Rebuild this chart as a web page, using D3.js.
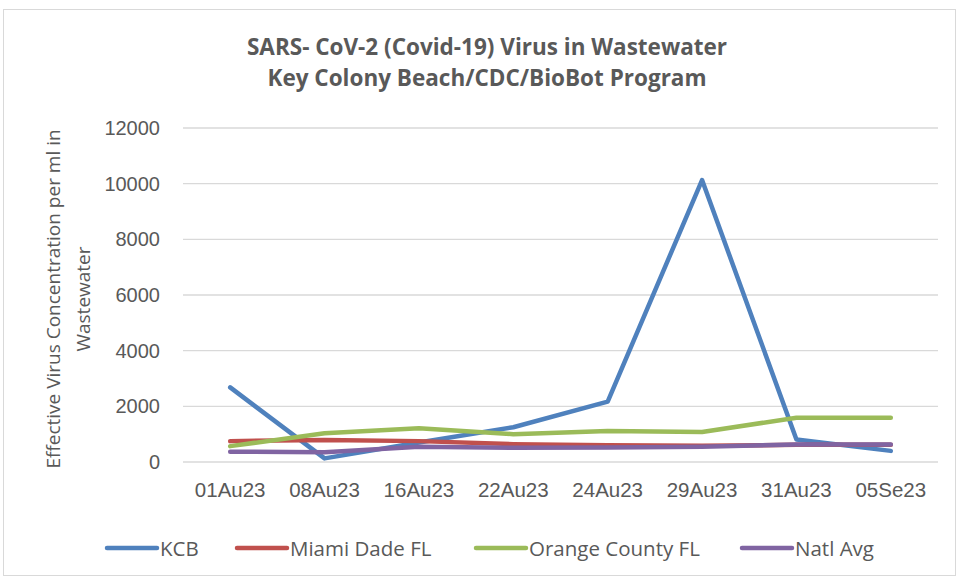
<!DOCTYPE html>
<html>
<head>
<meta charset="utf-8">
<script src="https://cdn.jsdelivr.net/npm/d3@7"></script>
<style>
  body { margin: 0; background: #fff; }
  svg { font-family: 'Open Sans', sans-serif; display: block; }
  .tick text { fill: #595959; }
</style>
</head>
<body>
<div id="chart"></div>
<script>
const categories = ['01Au23', '08Au23', '16Au23', '22Au23', '24Au23', '29Au23', '31Au23', '05Se23']
const kcb = [2680, 130, 700, 1250, 2170, 10130, 810, 400]
const miamiDade = [750, 790, 750, 640, 600, 580, 620, 620]
const orangeCounty = [570, 1030, 1210, 1000, 1110, 1080, 1590, 1590]
const natlAvg = [370, 350, 550, 510, 520, 550, 630, 630]
const yTicks = [0, 2000, 4000, 6000, 8000, 10000, 12000]

const series = [
  { name: 'KCB', values: kcb, color: '#4F81BD' },
  { name: 'Miami Dade FL', values: miamiDade, color: '#C0504D' },
  { name: 'Orange County FL', values: orangeCounty, color: '#9BBB59' },
  { name: 'Natl Avg', values: natlAvg, color: '#8064A2' }
]

const width = 956
const height = 580
const margin = { top: 128, right: 18, bottom: 118, left: 183 }
const innerWidth = width - margin.left - margin.right
const innerHeight = height - margin.top - margin.bottom

const svg = d3.select('#chart').append('svg')
  .attr('width', width)
  .attr('height', height)

// chart frame
svg.append('rect')
  .attr('x', 3.5).attr('y', 9.5)
  .attr('width', 952).attr('height', 566)
  .attr('fill', 'none')
  .attr('stroke', '#d9d9d9')

const x = d3.scaleBand().domain(categories).range([0, innerWidth])
const y = d3.scaleLinear().domain([0, 12000]).range([innerHeight, 0])

const g = svg.append('g').attr('transform', 'translate(' + margin.left + ',' + margin.top + ')')

// gridlines
g.append('g')
  .selectAll('line')
  .data(yTicks)
  .join('line')
  .attr('x1', 0).attr('x2', innerWidth)
  .attr('y1', d => y(d)).attr('y2', d => y(d))
  .attr('stroke', '#d9d9d9')
  .attr('stroke-width', 1.3)

const yAxis = g.append('g')
  .call(d3.axisLeft(y).tickValues(yTicks).tickSize(0).tickPadding(23).tickFormat(d3.format('d')))
yAxis.select('.domain').remove()
yAxis.selectAll('text').attr('font-size', 20)

const xAxis = g.append('g')
  .attr('transform', 'translate(0,' + innerHeight + ')')
  .call(d3.axisBottom(x).tickSize(0).tickPadding(20))
xAxis.select('.domain').remove()
xAxis.selectAll('text').attr('font-size', 20.5)

// lines
const line = d3.line()
  .x((d, i) => x(categories[i]) + x.bandwidth() / 2)
  .y(d => y(d))

g.selectAll('.series')
  .data(series)
  .join('path')
  .attr('class', 'series')
  .attr('d', d => line(d.values))
  .attr('fill', 'none')
  .attr('stroke', d => d.color)
  .attr('stroke-width', 4.5)
  .attr('stroke-linecap', 'round')
  .attr('stroke-linejoin', 'round')

// title
const title = svg.append('text')
  .attr('text-anchor', 'middle')
  .attr('font-size', 22.5)
  .attr('font-weight', 'bold')
  .attr('fill', '#595959')
title.append('tspan').attr('x', 487).attr('y', 55).text('SARS- CoV-2 (Covid-19) Virus in Wastewater')
title.append('tspan').attr('x', 487).attr('y', 86).text('Key Colony Beach/CDC/BioBot Program')

// y axis title
const yTitle = svg.append('text')
  .attr('transform', 'translate(0,299) rotate(-90)')
  .attr('text-anchor', 'middle')
  .attr('font-size', 19)
  .attr('fill', '#595959')
yTitle.append('tspan').attr('x', 0).attr('y', 60).text('Effective Virus Concentration per ml in')
yTitle.append('tspan').attr('x', 0).attr('y', 90).text('Wastewater')

// legend
const legendX = [105, 235, 474, 740]
const legend = svg.append('g').attr('transform', 'translate(0,548)')
const item = legend.selectAll('g')
  .data(series)
  .join('g')
  .attr('transform', (d, i) => 'translate(' + legendX[i] + ',0)')
item.append('line')
  .attr('x1', 2).attr('x2', 52)
  .attr('stroke', d => d.color)
  .attr('stroke-width', 4.5)
  .attr('stroke-linecap', 'round')
item.append('text')
  .attr('x', 55).attr('y', 7.5)
  .attr('font-size', 20.5)
  .attr('fill', '#595959')
  .text(d => d.name)
</script>
</body>
</html>
